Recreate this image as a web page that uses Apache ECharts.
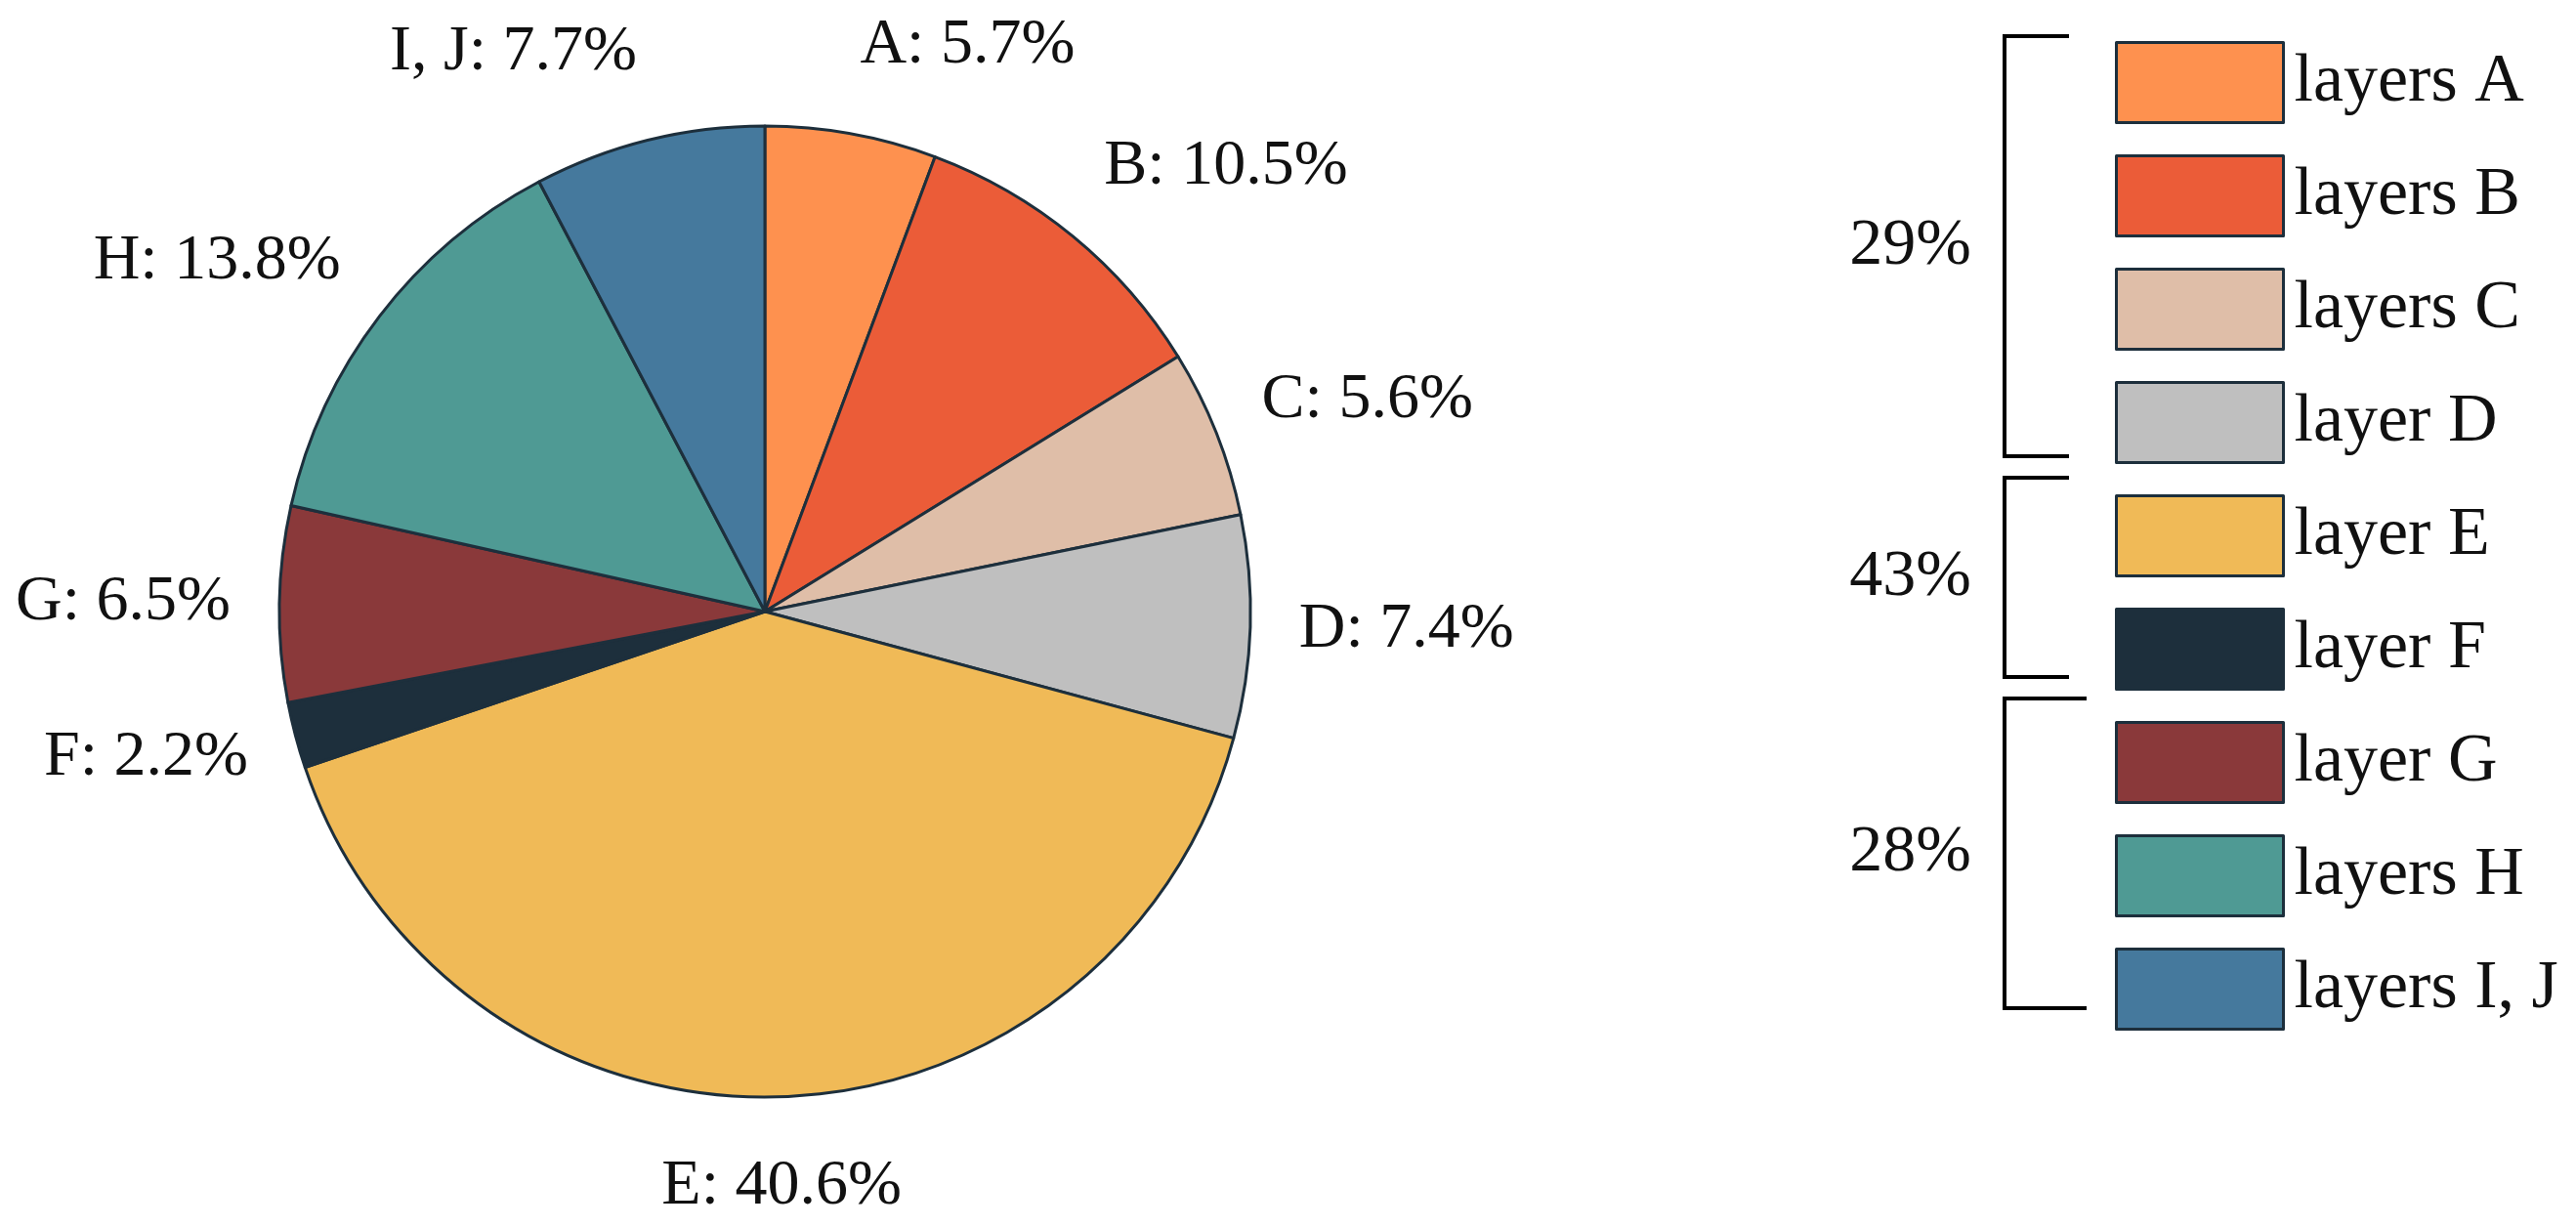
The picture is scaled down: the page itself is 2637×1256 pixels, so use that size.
<!DOCTYPE html>
<html>
<head>
<meta charset="utf-8">
<style>
  html, body { margin: 0; padding: 0; background: #fff; }
  #main { width: 2637px; height: 1256px; }
</style>
<script src="https://cdn.jsdelivr.net/npm/echarts@6/dist/echarts.min.js"></script>
</head>
<body>
<div id="main"></div>
<script>
var legendNames = ['layers A', 'layers B', 'layers C', 'layer D', 'layer E', 'layer F', 'layer G', 'layers H', 'layers I, J'];
var shortNames = ['A', 'B', 'C', 'D', 'E', 'F', 'G', 'H', 'I, J'];
var values = [5.7, 10.5, 5.6, 7.4, 40.6, 2.2, 6.5, 13.8, 7.7];
var colors = ['#FE914F', '#EB5C38', '#DFBEA8', '#BFBFBF', '#F0BA57', '#1D2F3C', '#8A393A', '#4F9A94', '#45799D'];
var groupLabels = ['29%', '43%', '28%'];
var groupSizes = [4, 2, 3];

(function () {
    var myChart = echarts.init(document.getElementById('main'));
    var font = '"Liberation Serif", "Times New Roman", serif';
    var fontSize = 66;
    var edge = '#1D2F3C';

    // legend box geometry
    var legTop = 42, legLeft = 2165, itemW = 171, itemH = 82, itemGap = 31;
    var pitch = itemH + itemGap;

    var total = values.reduce(function (a, b) { return a + b; }, 0);
    var midAngles = [];
    var cum = 0;
    values.forEach(function (v) {
        midAngles.push((cum + v / 2) / total * Math.PI * 2);
        cum += v;
    });

    var pieData = values.map(function (v, i) {
        return { name: legendNames[i], value: v, itemStyle: { color: colors[i] } };
    });

    // brackets + group percentages next to the legend
    var graphics = [];
    var start = 0;
    groupSizes.forEach(function (n, g) {
        var top = legTop + start * pitch - 5;
        var bottom = legTop + (start + n - 1) * pitch + itemH + 4;
        var xv = 2052, xh = g === groupSizes.length - 1 ? 2136 : 2118;
        graphics.push({
            type: 'polyline',
            shape: { points: [[xh, top], [xv, top], [xv, bottom], [xh, bottom]] },
            style: { stroke: '#000', lineWidth: 4, fill: null }
        });
        graphics.push({
            type: 'text',
            x: 2018,
            y: (top + bottom) / 2,
            style: {
                text: groupLabels[g], fill: '#111', font: '68px ' + font,
                align: 'right', verticalAlign: 'middle'
            }
        });
        start += n;
    });

    var option = {
        animation: false,
        legend: {
            orient: 'vertical',
            left: legLeft,
            top: legTop,
            padding: 0,
            itemWidth: itemW,
            itemHeight: itemH,
            itemGap: itemGap,
            icon: 'rect',
            selectedMode: false,
            itemStyle: { borderColor: edge, borderWidth: 3 },
            textStyle: {
                fontFamily: font, fontSize: 70, lineHeight: 72, color: '#111',
                padding: [0, 0, 0, 6]
            },
            data: legendNames
        },
        graphic: graphics,
        series: [{
            type: 'pie',
            center: [783, 626],
            radius: 497,
            startAngle: 90,
            clockwise: true,
            avoidLabelOverlap: false,
            emphasis: { disabled: true },
            itemStyle: { borderColor: edge, borderWidth: 3 },
            label: {
                show: true,
                position: 'outside',
                distanceToLabelLine: 0,
                fontFamily: font,
                fontSize: fontSize,
                color: '#111',
                formatter: function (p) {
                    return shortNames[p.dataIndex] + ': ' + p.value.toFixed(1) + '%';
                }
            },
            labelLine: { show: false, length: 50, length2: 0 },
            labelLayout: function (p) {
                var a = midAngles[p.dataIndex];
                var s = Math.sin(a), c = Math.cos(a);
                var dx = 0;
                if (Math.abs(s) < 0.1) dx = (s > 0 ? -1 : 1) * p.labelRect.width / 2;
                return { dx: dx, dy: -c * 42 };
            },
            data: pieData
        }]
    };

    myChart.setOption(option);

    window.addEventListener('resize', function () {
        myChart.resize();
    });
})();
</script>
</body>
</html>
